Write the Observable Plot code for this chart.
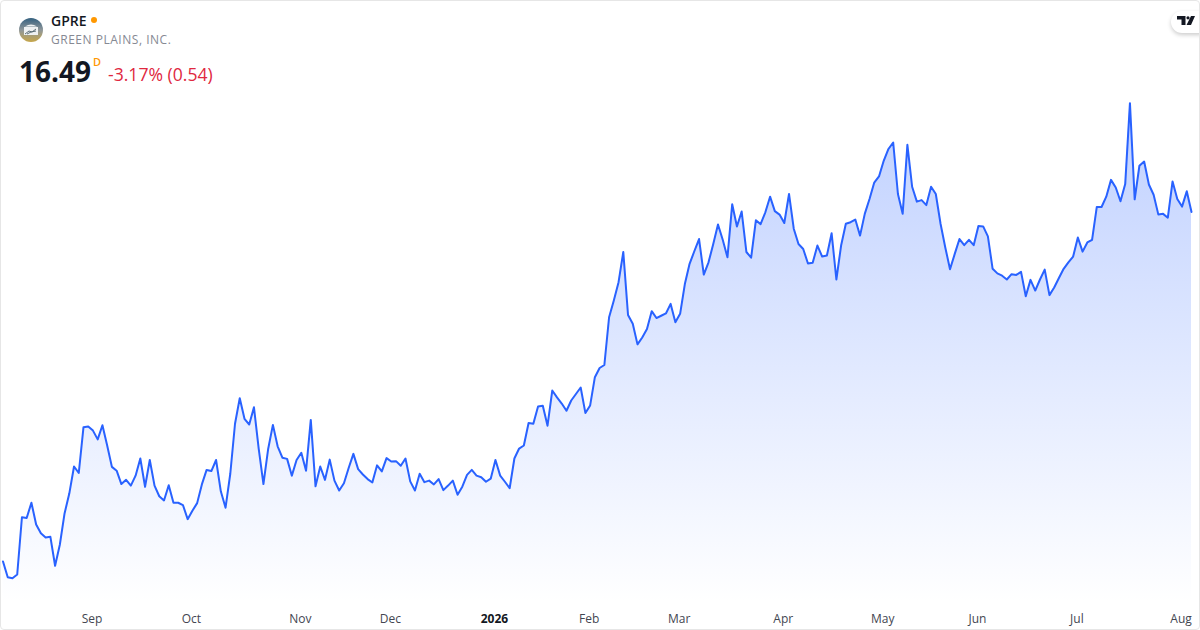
<!DOCTYPE html>
<html>
<head>
<meta charset="utf-8">
<script src="https://cdn.jsdelivr.net/npm/d3@7"></script>
<script src="https://cdn.jsdelivr.net/npm/@observablehq/plot@0.6"></script>
<style>
html,body{margin:0;padding:0;background:#fff;width:1200px;height:630px;overflow:hidden}
#card{position:relative;width:1200px;height:630px;font-family:"Open Sans",sans-serif;box-sizing:border-box;overflow:hidden}
#card svg.plot{position:absolute;left:0;top:0;display:block}
#frame{position:absolute;left:0;top:0;width:1200px;height:630px;box-sizing:border-box;border:1px solid #e6e6e6;border-radius:4px;pointer-events:none}
.t{position:absolute;white-space:nowrap;line-height:1}
#logoBadge{position:absolute;left:1171px;top:11px;width:40px;height:22px;background:#fff;border-radius:11px;box-shadow:0 2px 4px rgba(0,0,0,.2)}
</style>
</head>
<body>
<div id="card">
  <svg style="position:absolute;left:19px;top:18px" width="24" height="24" viewBox="0 0 24 24">
    <defs><linearGradient id="lg" x1="0" y1="0" x2="0" y2="1"><stop offset="0" stop-color="#34607f"/><stop offset="0.5" stop-color="#8f979a"/><stop offset="1" stop-color="#c6a64a"/></linearGradient></defs>
    <circle cx="12" cy="12" r="12" fill="url(#lg)"/>
    <rect x="5" y="9" width="14" height="8" fill="#eef1f2"/>
    <path d="M6 16l4-3 3 1 4-3M8 16l4-2 5-1" stroke="#5d6f78" stroke-width="1" fill="none"/>
    <path d="M6 8.5q6-4 12 0z" fill="#eef1f2"/>
  </svg>
  <div class="t" style="left:51px;top:14px;font-size:14px;font-weight:600;color:#131722">GPRE</div>
  <svg style="position:absolute;left:91px;top:17px" width="6" height="6"><circle cx="3" cy="3" r="3" fill="#ff9800"/></svg>
  <div class="t" style="left:51px;top:34px;font-size:12px;letter-spacing:.52px;color:#868993">GREEN PLAINS, INC.</div>
  <div class="t" style="left:19px;top:57px;font-size:28px;font-weight:700;color:#131722">16.49</div>
  <div class="t" style="left:93px;top:56px;font-size:11px;font-weight:600;color:#ff9800">D</div>
  <div class="t" style="left:108px;top:66px;font-size:17.6px;color:#e0283f">-3.17% (0.54)</div>
  <div id="logoBadge"></div>
  <svg style="position:absolute;left:1177px;top:16px" width="18" height="10" viewBox="0 0 18 10">
    <path d="M0 0h8.5v9H4.5V3.5H0zM11 0.2a1.6 1.6 0 1 1 0 3.2a1.6 1.6 0 1 1 0-3.2zM14 0h4l-4 9H9.5z" fill="#131722"/>
  </svg>
  <div id="frame"></div>
</div>
<script>
const prices = [
7.33,6.92,6.89,6.99,8.49,8.47,8.87,8.30,8.07,7.96,7.98,7.22,7.77,8.59,9.11,9.82,9.65,10.85,10.87,10.76,
10.53,10.90,10.37,9.81,9.71,9.36,9.47,9.32,9.58,10.03,9.29,9.99,9.32,9.04,8.93,9.33,8.87,8.87,8.81,8.44,
8.66,8.86,9.35,9.73,9.70,9.99,9.17,8.74,9.63,10.94,11.61,11.07,10.92,11.37,10.29,9.36,10.28,10.91,10.35,10.05,
10.02,9.58,9.99,10.18,9.71,11.04,9.30,9.82,9.47,10.00,9.45,9.19,9.38,9.78,10.15,9.75,9.61,9.49,9.40,9.85,
9.69,10.04,9.95,9.96,9.84,10.03,9.43,9.19,9.63,9.41,9.45,9.35,9.49,9.20,9.32,9.45,9.08,9.29,9.60,9.73,
9.58,9.54,9.42,9.50,9.99,9.58,9.42,9.25,10.03,10.29,10.37,10.96,10.94,11.39,11.41,10.89,11.81,11.63,11.47,11.28,
11.55,11.72,11.89,11.22,11.42,12.16,12.40,12.48,13.73,14.17,14.65,15.44,13.79,13.56,13.02,13.20,13.42,13.89,13.71,13.77,
13.83,14.08,13.60,13.82,14.60,15.13,15.46,15.78,14.85,15.17,15.65,16.16,15.76,15.30,16.69,16.11,16.50,15.44,15.29,16.27,
16.17,16.48,16.89,16.51,16.42,16.20,16.96,16.05,15.65,15.52,15.14,15.16,15.61,15.32,15.35,15.93,14.72,15.61,16.18,16.22,
16.29,15.87,16.44,16.83,17.26,17.42,17.83,18.14,18.31,16.96,16.44,18.25,17.15,16.76,16.80,16.67,17.15,16.96,16.18,15.56,
14.99,15.39,15.78,15.62,15.76,15.62,16.12,16.11,15.85,15.00,14.88,14.82,14.72,14.86,14.84,14.92,14.28,14.71,14.43,14.72,
14.98,14.31,14.51,14.76,15.00,15.17,15.32,15.82,15.45,15.69,15.76,16.62,16.62,16.89,17.33,17.13,16.77,17.22,19.34,16.82,
17.70,17.81,17.21,16.94,16.42,16.44,16.34,17.29,16.83,16.63,17.03,16.49
];
const tickSessions = [19,40,63,82,104,124,143,165,186,206,227,249];
const tickLabels = ["Sep","Oct","Nov","Dec","2026","Feb","Mar","Apr","May","Jun","Jul","Aug"];

const rows = prices.map((price, session) => ({session, price}));
const floorPrice = 6.23;
const ticks = tickSessions.map((session, i) => ({session, label: tickLabels[i]}));
const tickText = (data, weight) => Plot.text(data, {
  x: "session", text: "label", frameAnchor: "bottom", dy: -8, dx: -1,
  fontSize: 12, fontWeight: weight, fill: weight > 500 ? "#131722" : "#434651",
  fontFamily: "Open Sans"
});

const chart = Plot.plot({
  width: 1200, height: 630,
  marginTop: 0, marginBottom: 0, marginLeft: 0, marginRight: 0,
  style: {background: "transparent", overflow: "visible"},
  x: {type: "linear", domain: [0, 251], range: [2.5, 1191], axis: null},
  y: {type: "linear", domain: [floorPrice, 19.41], range: [603, 100], axis: null},
  marks: [
    () => {
      const ns = "http://www.w3.org/2000/svg";
      const defs = document.createElementNS(ns, "defs");
      const g = document.createElementNS(ns, "linearGradient");
      g.setAttribute("id", "areaFill");
      g.setAttribute("gradientUnits", "userSpaceOnUse");
      g.setAttribute("x1", 0); g.setAttribute("x2", 0);
      g.setAttribute("y1", 100); g.setAttribute("y2", 603);
      [[0, 0.3], [1, 0]].forEach(([o, a]) => {
        const s = document.createElementNS(ns, "stop");
        s.setAttribute("offset", o);
        s.setAttribute("stop-color", "#2962ff");
        s.setAttribute("stop-opacity", a);
        g.appendChild(s);
      });
      defs.appendChild(g);
      return defs;
    },
    Plot.areaY(rows, {x: "session", y1: floorPrice, y2: "price", fill: "url(#areaFill)"}),
    Plot.lineY(rows, {x: "session", y: "price", stroke: "#2962ff", strokeWidth: 2}),
    tickText(ticks.filter(d => d.label !== "2026"), 400),
    tickText(ticks.filter(d => d.label === "2026"), 700)
  ]
});
document.getElementById("card").prepend(chart);
</script>
</body>
</html>
